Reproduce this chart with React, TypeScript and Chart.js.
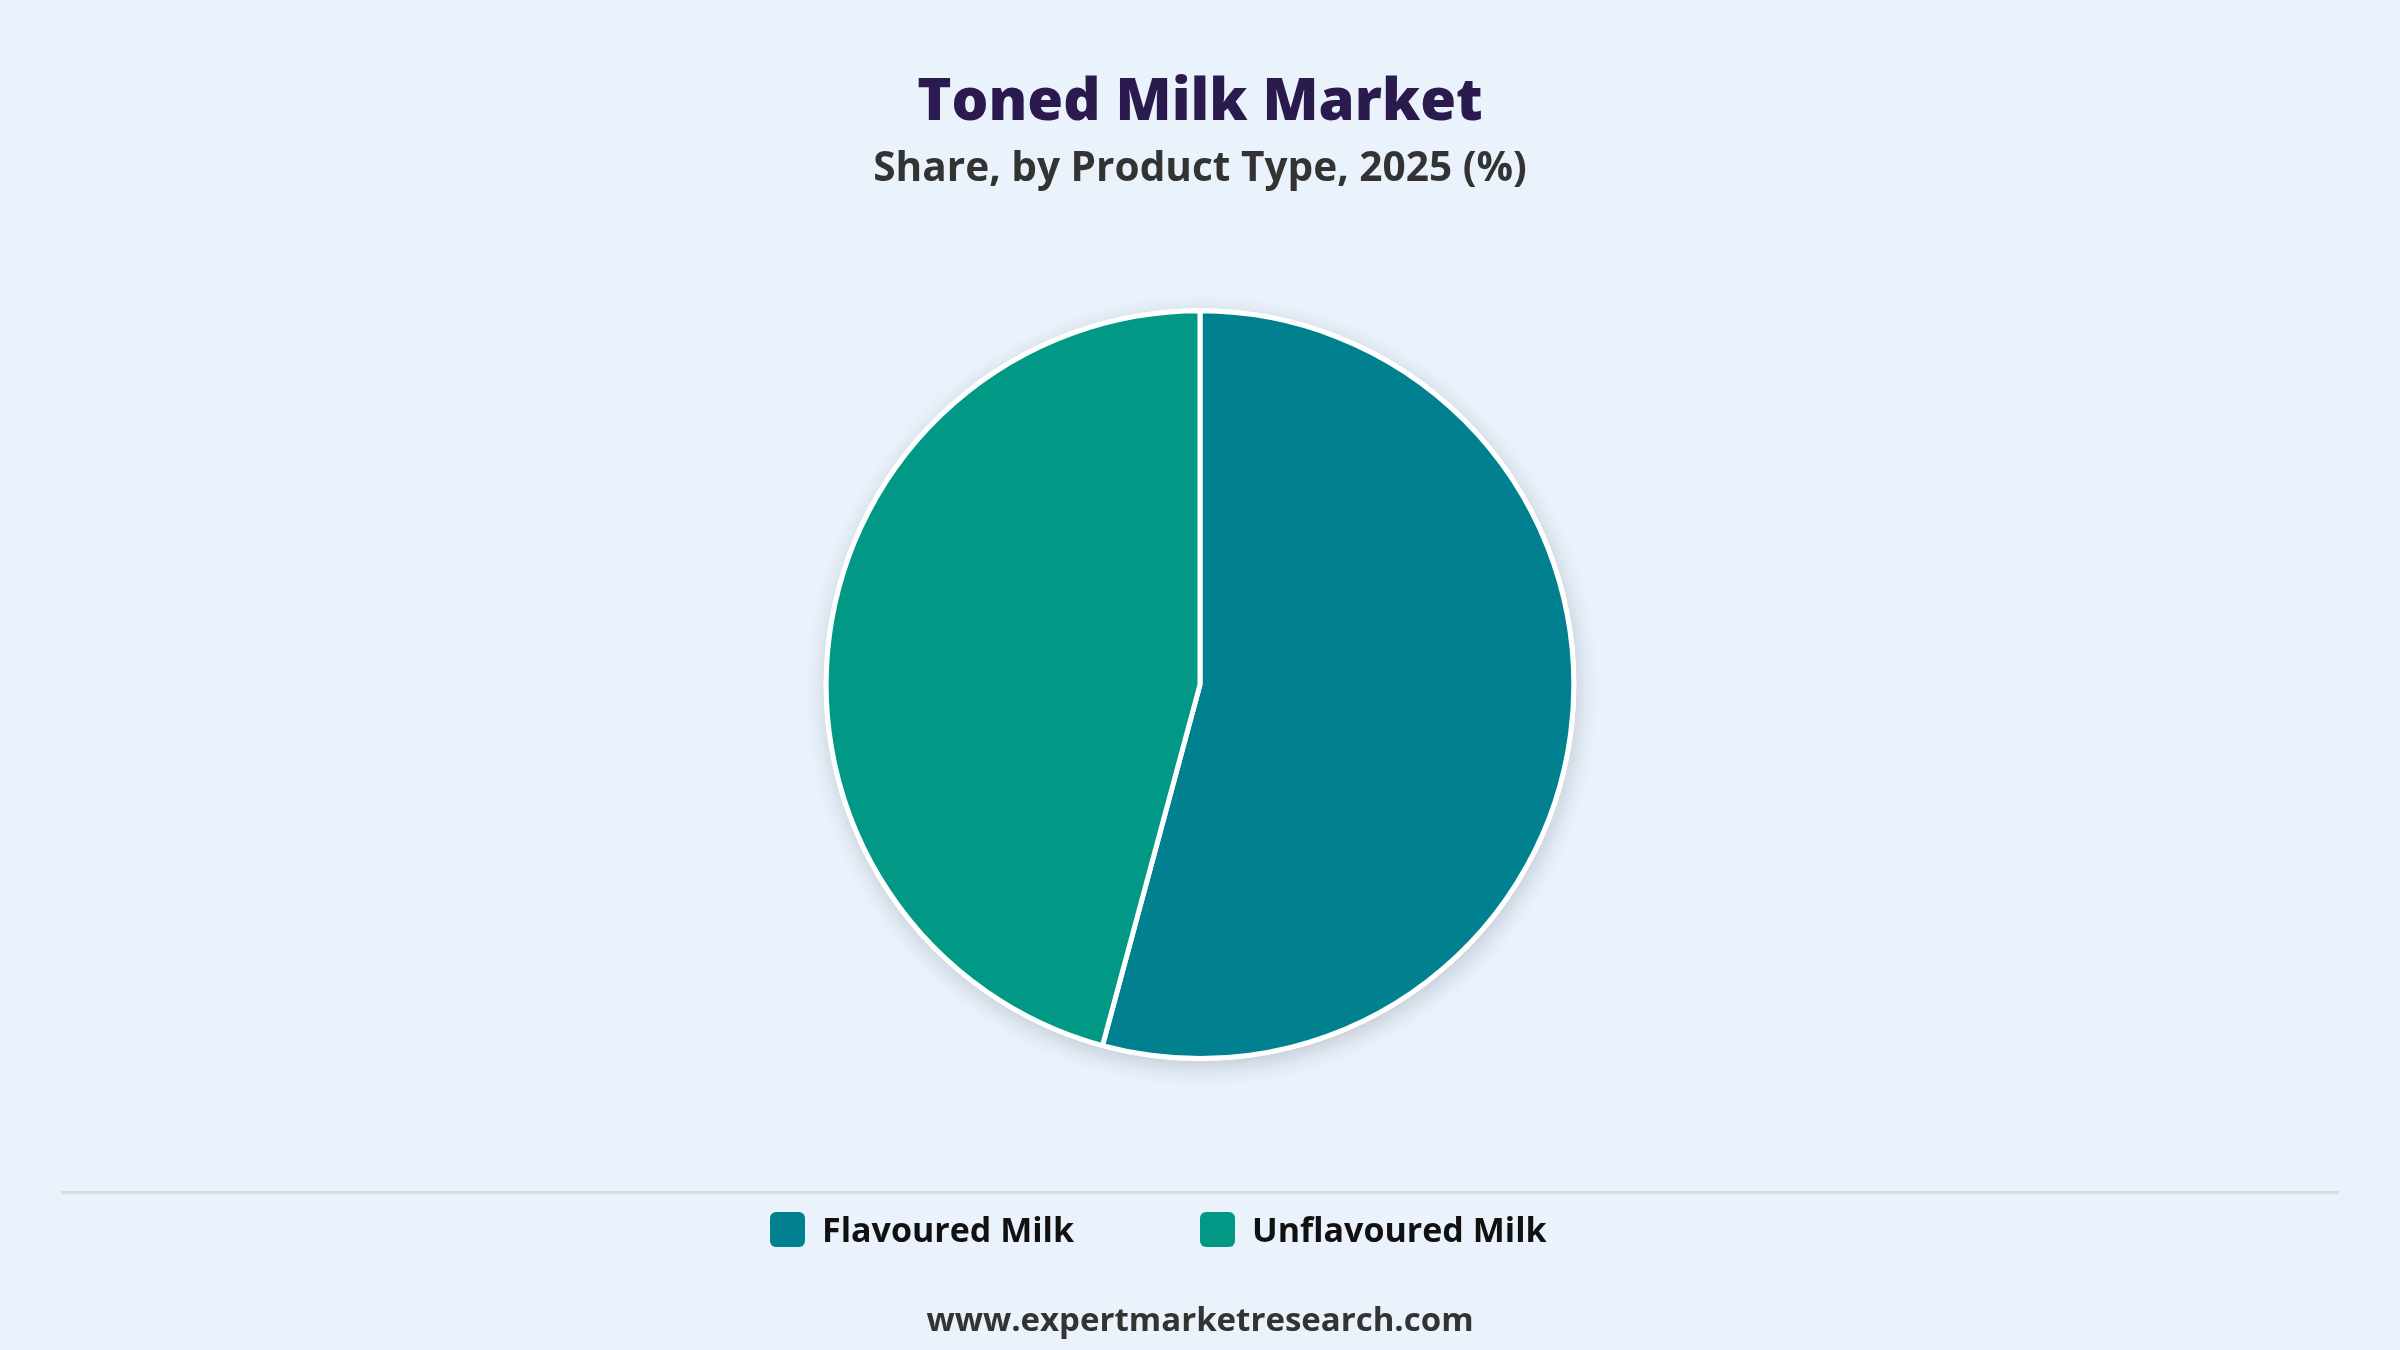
import React, { useEffect, useRef } from "react";
import { Chart, registerables } from "chart.js";

Chart.register(...registerables);

const TITLE = "Toned Milk Market";
const SUBTITLE = "Share, by Product Type, 2025 (%)";
const categories = ["Flavoured Milk", "Unflavoured Milk"];
const shares = [54.2, 45.8];
const colors = ["#01818F", "#029886"];
const SOURCE = "www.expertmarketresearch.com";

const BG = "#EAF2FB";
const FONT = "'Open Sans', 'Noto Sans', sans-serif";

const shadowPlugin = {
  id: "pieShadow",
  beforeDatasetsDraw(chart: any) {
    const arc = chart.getDatasetMeta(0).data[0];
    if (!arc) return;
    const { x, y, outerRadius } = arc.getProps(["x", "y", "outerRadius"], true);
    const ctx = chart.ctx;
    ctx.save();
    ctx.shadowColor = "rgba(30,40,60,0.20)";
    ctx.shadowBlur = 22;
    ctx.shadowOffsetX = 2;
    ctx.shadowOffsetY = 6;
    ctx.beginPath();
    ctx.arc(x, y, outerRadius + 2.5, 0, Math.PI * 2);
    ctx.fillStyle = "#ffffff";
    ctx.fill();
    ctx.restore();
  },
};

export default function App() {
  const canvasRef = useRef<HTMLCanvasElement | null>(null);

  useEffect(() => {
    if (!canvasRef.current) return;
    const chart = new Chart(canvasRef.current, {
      type: "pie",
      data: {
        labels: categories,
        datasets: [
          {
            data: shares,
            backgroundColor: colors,
            borderColor: "#ffffff",
            borderWidth: 5,
          },
        ],
      },
      options: {
        animation: false,
        responsive: false,
        devicePixelRatio: 1,
        layout: { padding: { top: 0, bottom: 289, left: 0, right: 0 } },
        plugins: {
          legend: { display: false },
          tooltip: { enabled: false },
          title: {
            display: true,
            text: TITLE,
            color: "#2B1A4E",
            font: { family: FONT, size: 58, weight: "800" as any, lineHeight: 1.2 },
            padding: { top: 69, bottom: 6 },
          },
          subtitle: {
            display: true,
            text: SUBTITLE,
            color: "#333333",
            font: { family: FONT, size: 40.6, weight: "bold", lineHeight: 1.2 },
            padding: { top: 0, bottom: 115 },
          },
        },
      },
      plugins: [shadowPlugin],
    });
    return () => chart.destroy();
  }, []);

  return (
    <div
      style={{
        position: "fixed",
        left: 0,
        top: 0,
        width: 2400,
        height: 1350,
        background: BG,
        overflow: "hidden",
        fontFamily: FONT,
      }}
    >
      <canvas ref={canvasRef} width={2400} height={1350} style={{ position: "absolute", left: 0, top: 0 }} />
      <div
        style={{
          position: "absolute",
          left: 61,
          top: 1191,
          width: 2278,
          height: 3,
          background: "#D9DDE3",
        }}
      />
      <div
        style={{
          position: "absolute",
          left: 770,
          top: 1212,
          display: "grid",
          gridTemplateColumns: "430px 430px",
        }}
      >
        {categories.map((c, i) => (
          <div key={c} style={{ display: "flex", alignItems: "center", height: 35 }}>
            <div
              style={{
                width: 35,
                height: 35,
                borderRadius: 6,
                background: colors[i],
                marginRight: 17,
                flex: "0 0 auto",
              }}
            />
            <span style={{ fontSize: 34, fontWeight: 700, color: "#111111", lineHeight: "35px", whiteSpace: "nowrap" }}>
              {c}
            </span>
          </div>
        ))}
      </div>
      <div
        style={{
          position: "absolute",
          left: 0,
          width: 2400,
          top: 1296,
          textAlign: "center",
          fontSize: 33,
          fontWeight: 700,
          color: "#333333",
          lineHeight: "46px",
        }}
      >
        {SOURCE}
      </div>
    </div>
  );
}
